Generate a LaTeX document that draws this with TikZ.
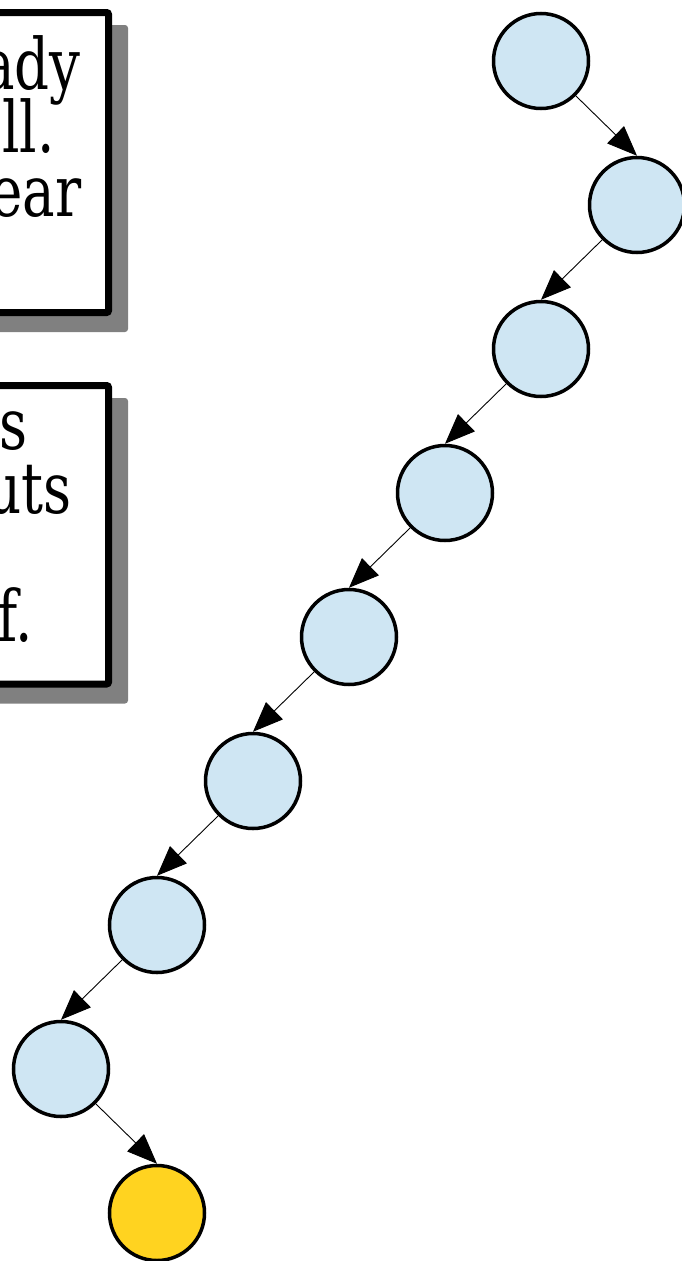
\documentclass[tikz,border=0pt]{standalone}
\usepackage{fontspec}
\setmainfont{DejaVu Serif}[FakeStretch=0.77]
\usetikzlibrary{arrows.meta}

\definecolor{nodeblue}{HTML}{CFE6F3}
\definecolor{lastyellow}{HTML}{FFD320}
\definecolor{shadowgray}{HTML}{808080}

\tikzset{
  elem/.style={circle, draw, line width=3.5pt, fill=nodeblue,
    minimum size=95pt, inner sep=0pt},
  link/.style={line width=0.9pt, -{Triangle[length=30pt,width=24pt]}},
  boxtext/.style={anchor=base east, inner sep=0pt,
    font=\fontsize{71}{63}\selectfont},
  shadow/.style={fill=shadowgray, rounded corners=3pt},
  notebox/.style={draw, fill=white, line width=7pt, rounded corners=2pt},
}

\begin{document}
\begin{tikzpicture}[x=1pt,y=-1pt]
\useasboundingbox (0,0) rectangle (682,1261);
\clip (0,0) rectangle (682,1261);

% First note
\fill[shadow] (-300,25) rectangle (128,332);
\draw[notebox] (-300,12.5) rectangle (108.5,312.5);
\node[boxtext] (t1) at (80.7,89) {ady};
\node[boxtext] (t2) at (55,152) {ll.};
\node[boxtext] (t3) at (81.7,216) {ear};

% Second note
\fill[shadow] (-300,398) rectangle (128,703.5);
\draw[notebox] (-300,385.5) rectangle (108.5,684);
\node[boxtext] (u1) at (27.7,449.5) {s};
\node[boxtext] (u2) at (71.7,513) {uts};
\node[boxtext] (u4) at (33,641.5) {f.};

% Chain of elements
\node[elem] (n1) at (541,61) {};
\node[elem] (n2) at (637,205) {};
\node[elem] (n3) at (541,349) {};
\node[elem] (n4) at (445,493) {};
\node[elem] (n5) at (349,637) {};
\node[elem] (n6) at (253,781) {};
\node[elem] (n7) at (157,925) {};
\node[elem] (n8) at (61,1069) {};

% Last element
\node[elem, fill=lastyellow] (n9) at (157,1213) {};

% Links
\draw[link] (n1.-45) -- (n2.north);
\draw[link] (n2.-135) -- (n3.north);
\draw[link] (n3.-135) -- (n4.north);
\draw[link] (n4.-135) -- (n5.north);
\draw[link] (n5.-135) -- (n6.north);
\draw[link] (n6.-135) -- (n7.north);
\draw[link] (n7.-135) -- (n8.north);
\draw[link] (n8.-45) -- (n9.north);
\end{tikzpicture}
\end{document}
